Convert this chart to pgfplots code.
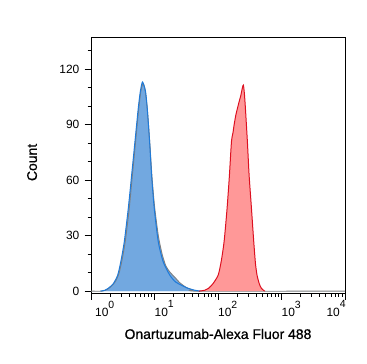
\documentclass[border=0pt]{standalone}
\usepackage{fontspec}
\setmainfont{Liberation Sans}
\newfontfamily\labfont[FakeBold=0.8]{Liberation Sans}
\usepackage{pgfplots}
\pgfplotsset{compat=1.18}
\definecolor{bluefill}{HTML}{72A8E0}
\definecolor{blueline}{HTML}{1F7AD8}
\definecolor{redfill}{HTML}{FF9898}
\definecolor{redline}{HTML}{DC1020}
\definecolor{grayline}{HTML}{808080}
\newcommand\tl[1]{10\raisebox{8.5bp}{\fontsize{10.5}{10}\selectfont #1}}
\begin{document}
\begin{tikzpicture}
\begin{axis}[
  scale only axis,
  width=254bp, height=256bp,
  xmode=log,
  xmin=1, xmax=10000,
  ymin=-1, ymax=137.3,
  axis line style={line width=0.9pt},
  tick align=outside,
  xtick pos=bottom, ytick pos=left,
  xtick={1,10,100,1000,10000},
  xticklabels={\hspace*{4bp}\tl{0},\tl{1},\tl{2},\tl{3},\llap{\tl{4}}},
  ytick={0,30,60,90,120},
  minor ytick={10,20,40,50,70,80,100,110,130},
  major tick length=6.5bp, minor tick length=3.5bp,
  every tick/.style={black, line width=0.9pt},
  minor tick style={line width=0.8pt},
  tick label style={font=\fontsize{12}{14}\selectfont},
  xticklabel style={anchor=north west, inner sep=0pt, yshift=-1bp},
  yticklabel style={inner sep=0pt, xshift=-5bp},
  /pgf/number format/assume math mode=true,
  xlabel={Onartuzumab-Alexa Fluor 488},
  ylabel={Count},
  label style={font=\labfont\fontsize{14}{16}\selectfont},
  xlabel style={at={(axis description cs:0.5,-0.16)}, anchor=center},
  ylabel style={at={(axis description cs:-0.232,0.51)}, anchor=center},
  clip=true,
]
% blue (outer) histogram fill
\addplot[draw=none, fill=bluefill, smooth, tension=0.4] coordinates {
(1.413,0) (1.660,0.5) (1.862,1.5) (2.239,4) (2.630,8.6) (2.951,16) (3.342,26.7)
(3.864,44.7) (4.365,62.7) (4.920,80.7) (5.546,98.7) (5.970,107.7) (6.310,112)
(6.486,113) (6.761,111.5) (7.244,107.7) (7.691,98.7) (8.375,80.7) (8.995,62.7)
(9.908,44.7) (11.46,26.7) (13.71,15.8) (17.46,8.6) (21.38,5) (26.67,3.2)
(33.88,1.5) (43.15,0.5) (52.48,0)
};
% gray-outlined histogram
\addplot[draw=grayline, line width=0.9pt, fill=bluefill, smooth, tension=0.4] coordinates {
(1,0) (1.479,0) (1.778,0.8) (1.995,2) (2.399,5) (2.754,9.5) (3.090,17) (3.467,27)
(3.981,44) (4.467,62) (5.012,80) (5.623,98) (6.095,108) (6.457,111.5) (6.683,112)
(6.998,110) (7.413,104) (7.852,95) (8.511,78) (9.120,62) (10.0,46) (11.48,30)
(13.18,20) (15.14,13.5) (17.78,10) (20.89,7.5) (25.12,4.5) (31.62,2) (39.81,0.7)
(50.12,0) (10000,0)
};
% blue outline
\addplot[draw=blueline, line width=1pt, smooth, tension=0.4] coordinates {
(1.413,0) (1.660,0.5) (1.862,1.5) (2.239,4) (2.630,8.6) (2.951,16) (3.342,26.7)
(3.864,44.7) (4.365,62.7) (4.920,80.7) (5.546,98.7) (5.970,107.7) (6.310,112)
(6.486,113) (6.761,111.5) (7.244,107.7) (7.691,98.7) (8.375,80.7) (8.995,62.7)
(9.908,44.7) (11.46,26.7) (13.71,15.8) (17.46,8.6) (21.38,5) (26.67,3.2)
(33.88,1.5) (43.15,0.5) (52.48,0)
};
% red histogram
\addplot[draw=redline, line width=1pt, fill=redfill, smooth, tension=0.4] coordinates {
(50.12,0) (61.94,0.5) (70.79,1.5) (83.18,4) (100.5,8.6) (112.2,16) (124.7,26.7)
(139.0,44.7) (151.4,62.7) (162.9,80.7) (173.0,86) (179.1,89.7) (190.5,95)
(202.3,98.7) (214.8,102.3) (228.0,105.5) (242.7,110) (251.2,111.3) (260.0,107)
(270.4,98.7) (290.4,80.7) (309.0,62.7) (336.5,44.7) (365.6,26.7) (389.0,15)
(412.1,8.6) (446.7,4) (483.1,1.5) (544.5,0)
};
\end{axis}
\pgfresetboundingbox
\useasboundingbox (-91bp,-71bp) rectangle (276bp,293bp);
\end{tikzpicture}
\end{document}
